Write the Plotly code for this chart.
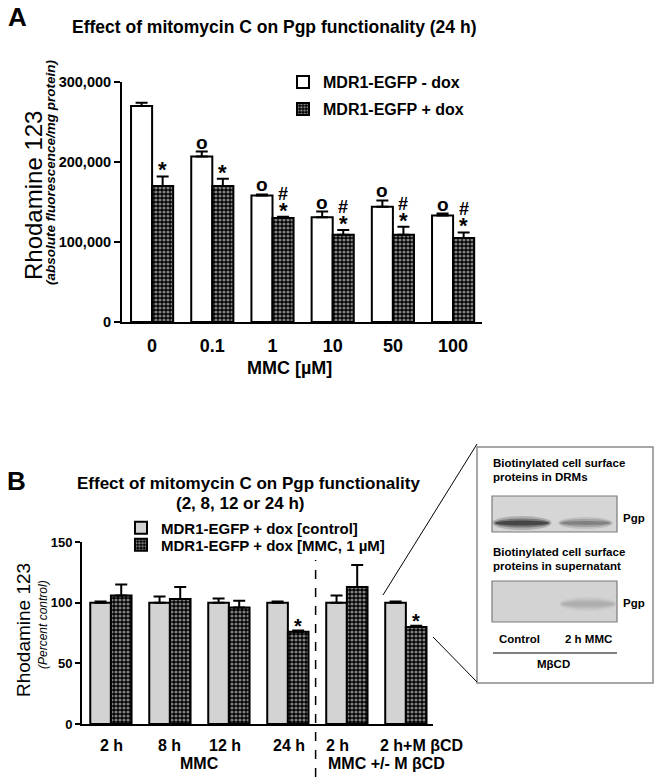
import plotly.graph_objects as go

W, H = 662, 778

# ---------------- Panel A data ----------------
doses = ["0", "0.1", "1", "10", "50", "100"]
minus_dox = [270000, 207000, 158000, 131000, 144000, 133000]
minus_dox_err = [4000, 6000, 1500, 7000, 8000, 2500]
plus_dox = [170000, 170000, 130000, 109000, 109000, 105000]
plus_dox_err = [12000, 9000, 1500, 6000, 10000, 7000]
minus_marks = ["", "o", "o", "o", "o", "o"]
plus_star = ["*", "*", "*", "*", "*", "*"]
plus_hash = ["", "", "#", "#", "#", "#"]
a_yticks = [0, 100000, 200000, 300000]

# ---------------- Panel B data ----------------
times = ["2 h", "8 h", "12 h", "24 h", "2 h", "2 h+M βCD"]
time_label_shift = [1, 0, -4, 1, -9, 16]
control = [100, 100, 100, 100, 100, 100]
control_err = [1, 5, 3.5, 1, 6, 1]
mmc = [106, 103, 96, 76, 113, 80]
mmc_err = [9, 10, 5.5, 1, 18, 1]
mmc_marks = ["", "", "", "*", "", "*"]
b_yticks = [0, 50, 100, 150]
group_labels = ["MMC", "MMC +/- M βCD"]
group_spans = [(0, 3), (4, 5)]
group_shift = [0, 10]

FONT = "Liberation Sans, Arial, sans-serif"
BARGAP = 0.3


def px(x):
    return x / W


def py(y):
    return 1 - y / H


checker = dict(shape=".", fgcolor="white", bgcolor="black", size=4, solidity=0.5)
err = dict(type="data", symmetric=False, color="black", thickness=2, width=6)

fig = go.Figure()
xa = list(range(len(doses)))
fig.add_trace(go.Bar(
    x=xa, y=minus_dox, name="MDR1-EGFP - dox", xaxis="x", yaxis="y",
    marker=dict(color="white", line=dict(color="black", width=2)),
    error_y=dict(array=minus_dox_err, arrayminus=[0] * 6, **err), legend="legend"))
fig.add_trace(go.Bar(
    x=xa, y=plus_dox, name="MDR1-EGFP + dox", xaxis="x", yaxis="y",
    marker=dict(color="black", pattern=checker, line=dict(color="black", width=2)),
    error_y=dict(array=plus_dox_err, arrayminus=[0] * 6, **err), legend="legend2"))

xb = list(range(len(times)))
fig.add_trace(go.Bar(
    x=xb, y=control, name="MDR1-EGFP + dox [control]", xaxis="x2", yaxis="y2",
    marker=dict(color="#d3d3d3", line=dict(color="black", width=2)),
    error_y=dict(array=control_err, arrayminus=[0] * 6, **err), legend="legend3"))
fig.add_trace(go.Bar(
    x=xb, y=mmc, name="MDR1-EGFP + dox [MMC, 1 µM]", xaxis="x2", yaxis="y2",
    marker=dict(color="black", pattern=checker, line=dict(color="black", width=2)),
    error_y=dict(array=mmc_err, arrayminus=[0] * 6, **err), legend="legend4"))

off = (1 - BARGAP) / 4
ann = []
bold = dict(family=FONT, color="black", weight="bold")
regular = dict(family=FONT, color="black")


def note(x, y, text, size, xref="paper", yref="paper", xanchor="center", yanchor="middle",
         angle=0, font=None, **kw):
    f = dict(size=size, **(font if font is not None else bold))
    return dict(x=x, y=y, xref=xref, yref=yref, text=text, showarrow=False,
                xanchor=xanchor, yanchor=yanchor, textangle=angle, font=f, **kw)


# significance marks panel A
for i in range(len(doses)):
    if minus_marks[i]:
        ann.append(note(i - off, minus_dox[i] + minus_dox_err[i], minus_marks[i], 19,
                        xref="x", yref="y", yanchor="bottom", yshift=-3))
    ann.append(note(i + off, plus_dox[i] + plus_dox_err[i], plus_star[i], 22,
                    xref="x", yref="y", yanchor="bottom", yshift=-8))
    if plus_hash[i]:
        ann.append(note(i + off, plus_dox[i] + plus_dox_err[i], plus_hash[i], 18,
                        xref="x", yref="y", yanchor="bottom", yshift=11))
# panel B marks
for i in range(len(times)):
    if mmc_marks[i]:
        ann.append(note(i + off, mmc[i] + mmc_err[i], mmc_marks[i], 20,
                        xref="x2", yref="y2", yanchor="bottom", yshift=-8))
# panel B category labels
for i, lab in enumerate(times):
    ann.append(note(i, py(745), lab, 16, xref="x2", xshift=time_label_shift[i]))
for lab, (a, b), s in zip(group_labels, group_spans, group_shift):
    ann.append(note((a + b) / 2, py(763), lab, 16, xref="x2", xshift=s))

ann += [
    note(px(17), py(17), "A", 26),
    note(px(274), py(27), "Effect of mitomycin C on Pgp functionality (24 h)", 17.5),
    note(px(33), py(196), "Rhodamine 123", 24, angle=-90, font=regular),
    note(px(51), py(172), "<i>(absolute fluorescence/mg protein)</i>", 13.5, angle=-90),
    note(px(289), py(368), "MMC [µM]", 18),
    note(px(16), py(481), "B", 26),
    note(px(248), py(483), "Effect of mitomycin C on Pgp functionality", 17),
    note(px(240), py(503), "(2, 8, 12 or 24 h)", 17),
    note(px(23), py(630), "Rhodamine 123", 19, angle=-90, font=regular),
    note(px(43), py(625), "<i>(Percent control)</i>", 12, angle=-90, font=regular),
]

# inset texts
ins = 11.5
ann += [
    note(px(491), py(463), "Biotinylated cell surface", ins, xanchor="left"),
    note(px(491), py(477), "proteins in DRMs", ins, xanchor="left"),
    note(px(621), py(518), "Pgp", ins, xanchor="left"),
    note(px(491), py(552), "Biotinylated cell surface", ins, xanchor="left"),
    note(px(491), py(566), "proteins in supernatant", ins, xanchor="left"),
    note(px(621), py(603), "Pgp", ins, xanchor="left"),
    note(px(519), py(639), "Control", ins),
    note(px(588), py(639), "2 h MMC", ins),
    note(px(553), py(664), "MβCD", ins),
]

shapes = []
shapes.append(dict(type="line", xref="x2", yref="paper", x0=3.47, x1=3.47,
                   y0=py(777), y1=py(560), line=dict(color="black", width=1.5, dash="dash")))
shapes += [
    dict(type="rect", xref="paper", yref="paper", x0=px(477), x1=px(653), y0=py(683), y1=py(447),
         line=dict(color="#8a8a8a", width=1.5), fillcolor="white", layer="below"),
    dict(type="line", xref="paper", yref="paper", x0=px(383), y0=py(595), x1=px(477), y1=py(444),
         line=dict(color="black", width=1)),
    dict(type="line", xref="paper", yref="paper", x0=px(433), y0=py(637), x1=px(477), y1=py(682),
         line=dict(color="black", width=1)),
    dict(type="rect", xref="paper", yref="paper", x0=px(492), x1=px(617), y0=py(532), y1=py(496),
         line=dict(color="#7a7a7a", width=1.2), fillcolor="#d6d6d6"),
    dict(type="rect", xref="paper", yref="paper", x0=px(492), x1=px(617), y0=py(622), y1=py(581),
         line=dict(color="#7a7a7a", width=1.2), fillcolor="#d3d3d3"),
    dict(type="line", xref="paper", yref="paper", x0=px(493), x1=px(617), y0=py(653), y1=py(653),
         line=dict(color="black", width=1)),
]
bands = [
    (497, 547, 523, "#3a3a3a", [14, 9, 5], [0.25, 0.45, 0.8]),
    (562, 609, 523, "#6a6a6a", [12, 8, 4], [0.2, 0.35, 0.6]),
    (564, 612, 604, "#a0a0a0", [14, 9, 5], [0.2, 0.3, 0.45]),
]
for x0, x1, yc, col, hs, ops in bands:
    for h, op in zip(hs, ops):
        shapes.append(dict(type="circle", xref="paper", yref="paper",
                           x0=px(x0 - h / 3), x1=px(x1 + h / 3), y0=py(yc + h / 2), y1=py(yc - h / 2),
                           fillcolor=col, opacity=op, line=dict(width=0)))

axis_common = dict(showline=True, linecolor="black", linewidth=2, showgrid=False, zeroline=False,
                   mirror=False)
leg_common = dict(xanchor="left", yanchor="middle", bgcolor="rgba(0,0,0,0)", itemwidth=30,
                  tracegroupgap=0)

fig.update_layout(
    width=W, height=H, margin=dict(l=0, r=0, t=0, b=0, pad=0, autoexpand=False), autosize=False,
    paper_bgcolor="white", plot_bgcolor="white",
    barmode="group", bargap=BARGAP, bargroupgap=0,
    font=dict(family=FONT, color="black"),
    xaxis=dict(domain=[px(122), px(482)], anchor="y", range=[-0.5, 5.48],
               tickvals=xa, ticktext=doses, ticks="", ticklabelstandoff=6, tickangle=0,
               tickfont=dict(size=18, **bold), **axis_common),
    yaxis=dict(domain=[py(322), py(82)], anchor="x", range=[0, 300000],
               tickvals=a_yticks, tickformat=",", ticks="outside", ticklen=6, tickwidth=2,
               tickcolor="black", tickfont=dict(size=14.5, **bold), **axis_common),
    xaxis2=dict(domain=[px(82), px(433)], anchor="y2", range=[-0.49, 5.46],
                tickvals=xb, showticklabels=False, ticks="", **axis_common),
    yaxis2=dict(domain=[py(724), py(542)], anchor="x2", range=[0, 150],
                tickvals=b_yticks, ticks="outside", ticklen=5, tickwidth=2,
                tickcolor="black", tickfont=dict(size=13, **bold), **axis_common),
    legend=dict(x=px(283), y=py(82), font=dict(size=16, **bold), **leg_common),
    legend2=dict(x=px(283), y=py(109), font=dict(size=16, **bold), **leg_common),
    legend3=dict(x=px(121), y=py(528), font=dict(size=15, **bold), **leg_common),
    legend4=dict(x=px(121), y=py(545), font=dict(size=15, **bold), **leg_common),
    annotations=ann, shapes=shapes, showlegend=True,
)

fig.write_html("out.html", include_plotlyjs=True, config={"displayModeBar": False},
               post_script="document.body.style.margin='0';document.body.style.overflow='hidden';")
